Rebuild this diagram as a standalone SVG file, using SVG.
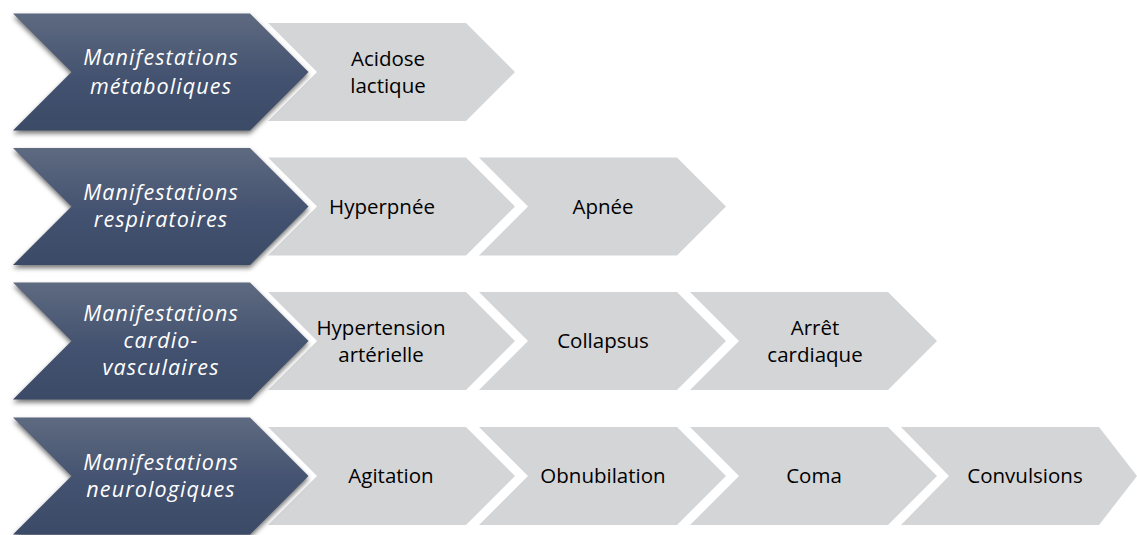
<svg xmlns="http://www.w3.org/2000/svg" width="1137" height="535" viewBox="0 0 1137 535">
  <defs>
    <linearGradient id="darkGrad" x1="0" y1="0" x2="0" y2="1">
      <stop offset="0" stop-color="#5e6a80"/>
      <stop offset="0.55" stop-color="#435270"/>
      <stop offset="1" stop-color="#3b4a66"/>
    </linearGradient>
    <filter id="shadow" x="-10%" y="-10%" width="120%" height="130%">
      <feGaussianBlur stdDeviation="2.5"/>
    </filter>
    <filter id="glow" x="-10%" y="-10%" width="120%" height="130%">
      <feGaussianBlur stdDeviation="1.5"/>
    </filter>
  </defs>
  <style>
    .gray { fill: #d4d5d7; }
    .dark { fill: url(#darkGrad); }
    .glow { fill: #ffffff; stroke: #ffffff; stroke-width: 7; stroke-linejoin: miter; filter: url(#glow); }
    .shd { fill: #000000; opacity: 0.55; filter: url(#shadow); }
    .lt { font-family: "Open Sans", "Liberation Sans", sans-serif; font-size: 21.5px; letter-spacing: 1.1px; font-style: italic; fill: #ffffff; text-anchor: middle; }
    .gt { font-family: "Open Sans", "Liberation Sans", sans-serif; font-size: 20.5px; fill: #000000; text-anchor: middle; }
  </style>

  <!-- Row 1 -->
  <g id="row1-item1">
    <polygon class="gray" points="268,23 466,23 515,72 466,121 268,121 317,72"/>
    <text class="gt" x="388" y="66">Acidose</text>
    <text class="gt" x="388" y="93">lactique</text>
  </g>
  <g id="row1-head">
    <polygon class="glow" points="13,13.5 250,13.5 308.5,72 250,130.5 13,130.5 71.5,72"/>
    <polygon class="shd" points="13,16.5 250,16.5 308.5,75 250,133.5 13,133.5 71.5,75"/>
    <polygon class="dark" points="13,13.5 250,13.5 308.5,72 250,130.5 13,130.5 71.5,72"/>
    <text class="lt" x="161" y="65">Manifestations</text>
    <text class="lt" x="161" y="94">métaboliques</text>
  </g>

  <!-- Row 2 -->
  <g id="row2-item1">
    <polygon class="gray" points="268,157.5 466,157.5 515,206.5 466,255.5 268,255.5 317,206.5"/>
    <text class="gt" x="382" y="214">Hyperpnée</text>
  </g>
  <g id="row2-item2">
    <polygon class="gray" points="479,157.5 677,157.5 726,206.5 677,255.5 479,255.5 528,206.5"/>
    <text class="gt" x="603" y="214">Apnée</text>
  </g>
  <g id="row2-head">
    <polygon class="glow" points="13,148 250,148 308.5,206.5 250,265 13,265 71.5,206.5"/>
    <polygon class="shd" points="13,151 250,151 308.5,209.5 250,268 13,268 71.5,209.5"/>
    <polygon class="dark" points="13,148 250,148 308.5,206.5 250,265 13,265 71.5,206.5"/>
    <text class="lt" x="161" y="200">Manifestations</text>
    <text class="lt" x="161" y="227">respiratoires</text>
  </g>

  <!-- Row 3 -->
  <g id="row3-item1">
    <polygon class="gray" points="268,292 466,292 515,341 466,390 268,390 317,341"/>
    <text class="gt" x="381" y="335">Hypertension</text>
    <text class="gt" x="381" y="362">artérielle</text>
  </g>
  <g id="row3-item2">
    <polygon class="gray" points="479,292 677,292 726,341 677,390 479,390 528,341"/>
    <text class="gt" x="603" y="348">Collapsus</text>
  </g>
  <g id="row3-item3">
    <polygon class="gray" points="690,292 888,292 937,341 888,390 690,390 739,341"/>
    <text class="gt" x="815" y="335">Arrêt</text>
    <text class="gt" x="815" y="362">cardiaque</text>
  </g>
  <g id="row3-head">
    <polygon class="glow" points="13,282.5 250,282.5 308.5,341 250,399.5 13,399.5 71.5,341"/>
    <polygon class="shd" points="13,285.5 250,285.5 308.5,344 250,402.5 13,402.5 71.5,344"/>
    <polygon class="dark" points="13,282.5 250,282.5 308.5,341 250,399.5 13,399.5 71.5,341"/>
    <text class="lt" x="161" y="321">Manifestations</text>
    <text class="lt" x="161" y="348">cardio-</text>
    <text class="lt" x="161" y="375">vasculaires</text>
  </g>

  <!-- Row 4 -->
  <g id="row4-item1">
    <polygon class="gray" points="268,427 466,427 515,476 466,525 268,525 317,476"/>
    <text class="gt" x="391" y="483">Agitation</text>
  </g>
  <g id="row4-item2">
    <polygon class="gray" points="479,427 677,427 726,476 677,525 479,525 528,476"/>
    <text class="gt" x="603" y="483">Obnubilation</text>
  </g>
  <g id="row4-item3">
    <polygon class="gray" points="690,427 888,427 937,476 888,525 690,525 739,476"/>
    <text class="gt" x="814" y="483">Coma</text>
  </g>
  <g id="row4-item4">
    <polygon class="gray" points="901,427 1099,427 1137,476 1099,525 901,525 949,476"/>
    <text class="gt" x="1025" y="483">Convulsions</text>
  </g>
  <g id="row4-head">
    <polygon class="glow" points="13,417.5 250,417.5 308.5,476 250,534.5 13,534.5 71.5,476"/>
    <polygon class="shd" points="13,420.5 250,420.5 308.5,479 250,537.5 13,537.5 71.5,479"/>
    <polygon class="dark" points="13,417.5 250,417.5 308.5,476 250,534.5 13,534.5 71.5,476"/>
    <text class="lt" x="161" y="470">Manifestations</text>
    <text class="lt" x="161" y="497">neurologiques</text>
  </g>

  <g id="connectors"/>
</svg>
